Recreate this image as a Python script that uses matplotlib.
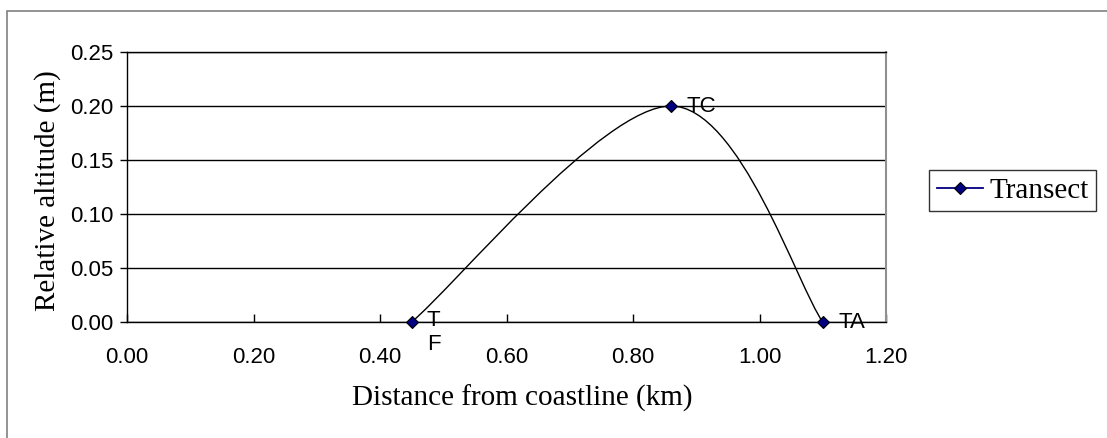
import matplotlib
matplotlib.use("Agg")
import matplotlib.pyplot as plt
from matplotlib.path import Path
from matplotlib.patches import PathPatch, Rectangle
from matplotlib.lines import Line2D
import numpy as np

# transect points
distance = [0.45, 0.86, 1.10]
altitude = [0.00, 0.20, 0.00]
point_labels = ["T\nF", "TC", "TA"]
x_ticks = [0.00, 0.20, 0.40, 0.60, 0.80, 1.00, 1.20]
y_ticks = [0.00, 0.05, 0.10, 0.15, 0.20, 0.25]
series_name = "Transect"

W, H = 1107, 438
sans = "Liberation Sans"
serif = "Liberation Serif"


def smooth_path(xs, ys):
    # excel-like smoothed line: cubic bezier with catmull-rom style control points
    pts = np.column_stack([xs, ys])
    n = len(pts)
    verts = [pts[0]]
    codes = [Path.MOVETO]
    for i in range(n - 1):
        p0 = pts[max(i - 1, 0)]
        p1 = pts[i]
        p2 = pts[i + 1]
        p3 = pts[min(i + 2, n - 1)]
        verts += [p1 + (p2 - p0) / 6, p2 - (p3 - p1) / 6, p2]
        codes += [Path.CURVE4] * 3
    return Path(verts, codes)


fig = plt.figure(figsize=(W / 100, H / 100), dpi=100)
ax = fig.add_axes([127 / W, 1 - 322 / H, 759 / W, 270 / H])

ax.add_patch(PathPatch(smooth_path(distance, altitude), fill=False,
                       edgecolor="black", lw=1.0, zorder=3))
ax.plot(distance, altitude, ls="none", marker="D", ms=6.5, mfc="#000080",
        mec="black", mew=0.8, zorder=4, clip_on=False)

# data labels
for x, y, lab in zip(distance, altitude, point_labels):
    if "\n" in lab:
        ax.annotate(lab, (x, y), xytext=(11, 9), textcoords="offset points",
                    ha="left", va="top", fontsize=16, family=sans,
                    linespacing=1.2, zorder=5, annotation_clip=False)
    else:
        ax.annotate(lab, (x, y), xytext=(11, 0), textcoords="offset points",
                    ha="left", va="center", fontsize=16, family=sans,
                    zorder=5, annotation_clip=False)

ax.set_xlim(0, 1.2)
ax.set_ylim(0, 0.25)
ax.set_xticks(x_ticks)
ax.set_yticks(y_ticks)
ax.set_xticklabels(["%.2f" % v for v in x_ticks], family=sans, fontsize=16)
ax.set_yticklabels(["%.2f" % v for v in y_ticks], family=sans, fontsize=16)
ax.tick_params(axis="x", direction="in", length=5.5, width=1, pad=18, colors="black")
ax.tick_params(axis="y", direction="out", length=5, width=1, pad=5, colors="black")

ax.grid(axis="y", color="black", lw=1.0)
ax.set_axisbelow(True)
for s in ["left", "bottom", "top"]:
    ax.spines[s].set_color("black")
    ax.spines[s].set_linewidth(1.0)
ax.spines["right"].set_color("#909090")
ax.spines["right"].set_linewidth(1.5)

fig.text(48 / W, 1 - 191 / H, "Relative altitude (m)", rotation=90,
         ha="center", va="center", family=serif, fontsize=21)
fig.text(522 / W, 1 - 398 / H, "Distance from coastline (km)",
         ha="center", va="center", family=serif, fontsize=21)

handle = Line2D([], [], color="#000080", lw=1.3, marker="D", ms=6.5,
                mfc="#000080", mec="black", mew=0.8)
leg = fig.legend([handle], [series_name], loc="center",
                 bbox_to_anchor=(1012.5 / W, 1 - 190.5 / H),
                 frameon=True, fancybox=False, edgecolor="black",
                 prop={"family": serif, "size": 21}, handlelength=1.6,
                 handletextpad=0.2, borderpad=0.25, borderaxespad=0)
leg.get_frame().set_linewidth(1.0)

# outer chart border (runs off the right and bottom edges)
fig.add_artist(Rectangle((7 / W, -0.5), 2, 0.5 + 1 - 11 / H,
                         transform=fig.transFigure, fill=False,
                         edgecolor="#808080", lw=1.2))

fig.savefig("out.png", dpi=100)
